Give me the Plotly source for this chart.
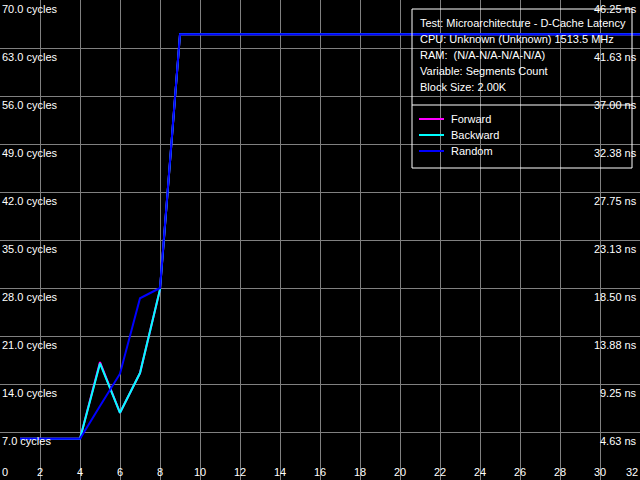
import plotly.graph_objects as go

# ---- data ----
segments = list(range(1, 33))
forward = [6.0, 6.0, 6.0, 6.0, 17.2, 9.8, 15.6, 27.8] + [65.0] * 24
backward = [6.0, 6.0, 6.0, 6.0, 17.0, 9.8, 15.6, 27.8] + [65.0] * 24
random_ = [6.0, 6.0, 6.0, 6.0, 10.8, 15.5, 26.5, 28.0] + [65.0] * 24

cycle_ticks = [7, 14, 21, 28, 35, 42, 49, 56, 63, 70]
cycle_labels = ["7.0 cycles", "14.0 cycles", "21.0 cycles", "28.0 cycles", "35.0 cycles",
                "42.0 cycles", "49.0 cycles", "56.0 cycles", "63.0 cycles", "70.0 cycles"]
ns_labels = ["4.63 ns", "9.25 ns", "13.88 ns", "18.50 ns", "23.13 ns",
             "27.75 ns", "32.38 ns", "37.00 ns", "41.63 ns", "46.25 ns"]
x_ticks = list(range(0, 33, 2))

info_lines = ["Test: Microarchitecture - D-Cache Latency",
              "CPU: Unknown (Unknown) 1513.5 MHz",
              "RAM:  (N/A-N/A-N/A-N/A)",
              "Variable: Segments Count",
              "Block Size: 2.00K"]
series_names = ["Forward", "Backward", "Random"]
series_colors = ["#ff00ff", "#00ffff", "#0000ff"]

FONT = dict(family="Liberation Sans, Arial, sans-serif", size=11, color="white")

fig = go.Figure()
for name, ys, col in zip(series_names, [forward, backward, random_], series_colors):
    fig.add_trace(go.Scatter(x=segments, y=ys, mode="lines", name=name,
                             line=dict(color=col, width=2), showlegend=False))

annotations = []
# left cycle labels
for v, t in zip(cycle_ticks, cycle_labels):
    annotations.append(dict(x=0, xref="paper", y=v, yref="y", text=t, showarrow=False,
                            xanchor="left", yanchor="top", yshift=-1, xshift=0, font=FONT))
# right ns labels
for v, t in zip(cycle_ticks, ns_labels):
    annotations.append(dict(x=1, xref="paper", y=v, yref="y", text=t, showarrow=False,
                            xanchor="right", yanchor="top", yshift=-1, xshift=-1, font=FONT))
# x labels
for v in x_ticks:
    anchor = "center"
    if v == 0:
        anchor = "left"
    elif v == 32:
        anchor = "right"
    annotations.append(dict(x=v, xref="x", y=0, yref="paper", text=str(v), showarrow=False,
                            xanchor=anchor, yanchor="bottom", yshift=0, font=FONT))

# info box (pixel geometry on a 640x480 full-bleed plot)
W, H = 640.0, 480.0
def px(x):
    return x / W
def py(y):
    return 1 - y / H

for i, t in enumerate(info_lines):
    annotations.append(dict(x=px(418), xref="paper", y=py(23 + 16 * i), yref="paper", text=t,
                            showarrow=False, xanchor="left", yanchor="middle", font=FONT))
for i, (n, c) in enumerate(zip(series_names, series_colors)):
    annotations.append(dict(x=px(449), xref="paper", y=py(119 + 16 * i), yref="paper", text=n,
                            showarrow=False, xanchor="left", yanchor="middle", font=FONT))

shapes = [
    dict(type="rect", xref="paper", yref="paper", x0=px(412), x1=px(632), y0=py(9), y1=py(168),
         line=dict(color="white", width=1), fillcolor="rgba(0,0,0,0)", layer="above"),
    dict(type="line", xref="paper", yref="paper", x0=px(412), x1=px(632), y0=py(105), y1=py(105),
         line=dict(color="white", width=1), layer="above"),
]
for i, c in enumerate(series_colors):
    shapes.append(dict(type="line", xref="paper", yref="paper", x0=px(419), x1=px(444),
                       y0=py(119 + 16 * i), y1=py(119 + 16 * i),
                       line=dict(color=c, width=2), layer="above"))

fig.update_layout(
    width=640, height=480,
    margin=dict(l=0, r=0, t=0, b=0),
    paper_bgcolor="black", plot_bgcolor="black",
    xaxis=dict(range=[0, 32], tickvals=x_ticks, showticklabels=False, showgrid=True,
               gridcolor="#808080", gridwidth=1, zeroline=False, showline=False),
    yaxis=dict(range=[0, 70], tickvals=cycle_ticks, showticklabels=False, showgrid=True,
               gridcolor="#808080", gridwidth=1, zeroline=False, showline=False),
    annotations=annotations,
    shapes=shapes,
    font=FONT,
)

fig.write_html("out.html",
               config={"displayModeBar": False, "staticPlot": True},
               post_script="document.body.style.margin='0';document.body.style.padding='0';"
                           "document.body.style.overflow='hidden';document.body.style.background='black';")
